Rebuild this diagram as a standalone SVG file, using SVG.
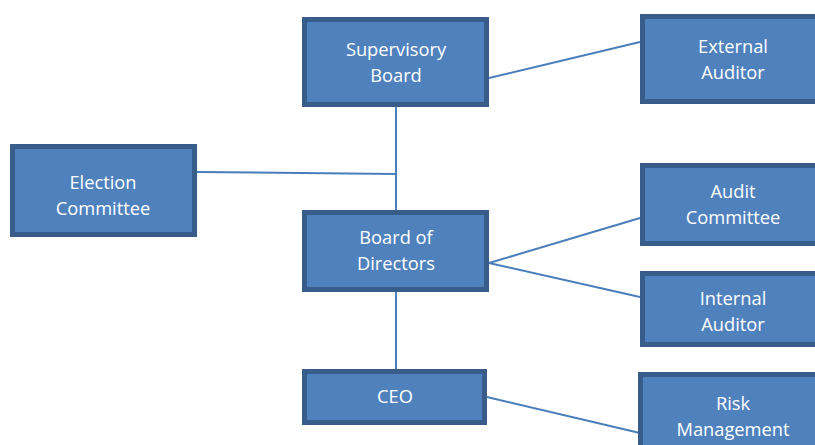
<svg xmlns="http://www.w3.org/2000/svg" width="815" height="445" viewBox="0 0 815 445">
<style>
.box{fill:#4F81BD;stroke:#385D8A;stroke-width:5}
.t{fill:#FFFFFF;font-family:"Open Sans","Liberation Sans",sans-serif;font-size:18.3px;text-anchor:middle}
.c{stroke:#4A7EBB;stroke-width:2;fill:none}
</style>
<rect width="815" height="445" fill="#FFFFFF"/>
<g id="connectors">
<line class="c" x1="396" y1="107" x2="396" y2="210"/>
<line class="c" x1="396" y1="292" x2="396" y2="369"/>
<line class="c" x1="197" y1="172" x2="396" y2="174"/>
<line class="c" x1="489" y1="78" x2="640" y2="42"/>
<line class="c" x1="489" y1="263" x2="640" y2="218"/>
<line class="c" x1="489" y1="263" x2="640" y2="297"/>
<line class="c" x1="487" y1="397" x2="640" y2="433"/>
</g>
<g id="supervisory">
<rect class="box" x="304.5" y="19.5" width="182" height="85"/>
<text class="t" x="396" y="56">Supervisory</text>
<text class="t" x="396" y="82">Board</text>
</g>
<g id="external">
<rect class="box" x="642.5" y="16.5" width="182" height="85"/>
<text class="t" x="733" y="53">External</text>
<text class="t" x="733" y="79">Auditor</text>
</g>
<g id="election">
<rect class="box" x="12.5" y="146.5" width="182" height="88"/>
<text class="t" x="103" y="189">Election</text>
<text class="t" x="103" y="215">Committee</text>
</g>
<g id="board">
<rect class="box" x="304.5" y="212.5" width="182" height="77"/>
<text class="t" x="396" y="244">Board of</text>
<text class="t" x="396" y="270">Directors</text>
</g>
<g id="audit">
<rect class="box" x="642.5" y="165.5" width="182" height="78"/>
<text class="t" x="733" y="198">Audit</text>
<text class="t" x="733" y="224">Committee</text>
</g>
<g id="internal">
<rect class="box" x="642.5" y="273.5" width="182" height="71"/>
<text class="t" x="733" y="305">Internal</text>
<text class="t" x="733" y="331">Auditor</text>
</g>
<g id="ceo">
<rect class="box" x="304.5" y="371.5" width="180" height="51"/>
<text class="t" x="395" y="403">CEO</text>
</g>
<g id="risk">
<rect class="box" x="640.5" y="374.5" width="182" height="80"/>
<text class="t" x="733" y="410">Risk</text>
<text class="t" x="733" y="436">Management</text>
</g>
</svg>
